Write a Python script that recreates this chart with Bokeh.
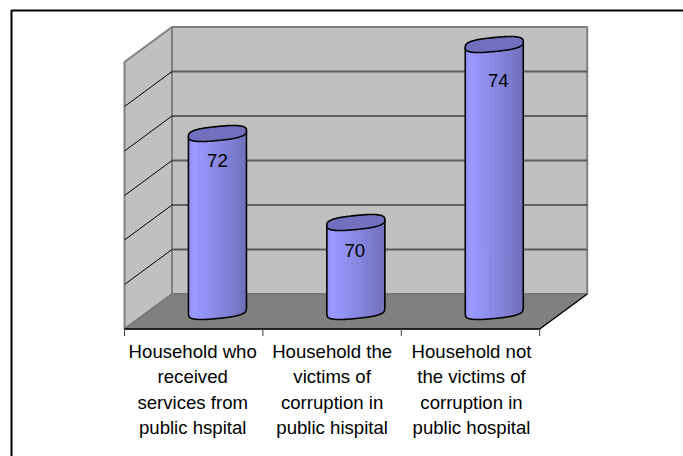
import numpy as np
from bokeh.plotting import figure
from bokeh.models import Range1d
from bokeh.core.properties import value
from bokeh.embed import file_html
from bokeh.resources import INLINE

# --- data ---
categories = [
    ["Household who", "received", "services from", "public hspital"],
    ["Household the", "victims of", "corruption in", "public hispital"],
    ["Household not", "the victims of", "corruption in", "public hospital"],
]
values = [72, 70, 74]
axis_min = 68
axis_max = 74
axis_ticks = [69, 70, 71, 72, 73]

# --- layout (pixels on the page) ---
W, H = 683, 456
PX_CAT = 138.4       # px per category
PX_UNIT = 44.5       # px per value unit
FRONT_LEFT = 124.0
FRONT_BOTTOM = 328.5
DEPTH_X = 47.5 / PX_CAT
DEPTH_Y = 35.0 / PX_UNIT
A = 29.0 / PX_CAT    # cylinder half width
B = 7.0 / PX_UNIT    # cap half height
K = 2.8 / PX_UNIT    # cap tilt
P = 2.8              # roundness of the cap outline

p = figure(width=W, height=H, output_backend="svg", toolbar_location=None,
           min_border=0, min_border_left=0, min_border_right=0,
           min_border_top=0, min_border_bottom=0,
           x_axis_type=None, y_axis_type=None,
           x_range=Range1d(-FRONT_LEFT / PX_CAT, (W - FRONT_LEFT) / PX_CAT),
           y_range=Range1d(axis_min - (H - FRONT_BOTTOM) / PX_UNIT,
                           axis_min + FRONT_BOTTOM / PX_UNIT))
p.grid.visible = False
p.outline_line_color = None
p.background_fill_color = "white"

n = len(categories)
x0, x1 = 0, n
GRAY = "#808080"
WALL = "#C0C0C0"

# walls and floor
p.patch([x0 + DEPTH_X, x1 + DEPTH_X, x1 + DEPTH_X, x0 + DEPTH_X],
        [axis_min + DEPTH_Y, axis_min + DEPTH_Y, axis_max + DEPTH_Y, axis_max + DEPTH_Y],
        fill_color=WALL, line_color=GRAY, line_width=2)
p.patch([x0, x0 + DEPTH_X, x0 + DEPTH_X, x0],
        [axis_min, axis_min + DEPTH_Y, axis_max + DEPTH_Y, axis_max],
        fill_color=WALL, line_color=GRAY, line_width=2)
p.patch([x0, x1, x1 + DEPTH_X, x0 + DEPTH_X],
        [axis_min, axis_min, axis_min + DEPTH_Y, axis_min + DEPTH_Y],
        fill_color=GRAY, line_color="#6E6E6E", line_width=1)

# gridlines: thin black on the side wall, alternating weight on the back wall
for k, t in enumerate(axis_ticks):
    p.line([x0, x0 + DEPTH_X], [t, t + DEPTH_Y], line_color="#000000", line_width=1)
    heavy = k % 2 == 0
    p.line([x0 + DEPTH_X, x1 + DEPTH_X], [t + DEPTH_Y, t + DEPTH_Y],
           line_color="#5A5A5A" if heavy else "#000000", line_width=1.8 if heavy else 1)

# floor edges and ticks
p.line([x0, x1, x1 + DEPTH_X], [axis_min, axis_min, axis_min + DEPTH_Y],
       line_color="#000000", line_width=1.4)
tick_len = 7.0 / PX_UNIT
p.segment(list(range(n + 1)), [axis_min] * (n + 1), list(range(n + 1)),
          [axis_min - tick_len] * (n + 1), line_color="#404040", line_width=1)

# cylinders
stripe_edges = [-1.0, -0.87, -0.72, -0.5, -0.33, -0.17, 0.02, 0.2, 0.34, 0.5, 0.62, 0.72, 0.82, 0.92]
stripe_colors = ["#9494F6", "#9999FF", "#9696FA", "#9292F3", "#8E8EEC", "#8A8AE6", "#8686DF",
                 "#8282D8", "#7E7ED2", "#7B7BCC", "#7878C7", "#7575C3", "#7373BF", "#7171BC"]
CAP = "#7070BE"

def lower(u):
    return -B * np.clip(1 - np.abs(u) ** P, 0, 1) ** (1 / P) + K * u

for i, v in enumerate(values):
    cx = i + 0.5 + DEPTH_X / 2
    base = axis_min + DEPTH_Y / 2
    top = v + DEPTH_Y / 2
    for e, c in zip(stripe_edges, stripe_colors):
        u = np.linspace(e, 1, 40)
        xs = np.r_[cx + A * u, cx + A * u[::-1]]
        ys = np.r_[base + lower(u), top + K * u[::-1]]
        p.patch(xs, ys, fill_color=c, line_color=None)
    u = np.linspace(-1, 1, 120)
    out_x = np.r_[cx - A, cx + A * u, cx + A]
    out_y = np.r_[top - K, base + lower(u), top + K]
    p.line(out_x, out_y, line_color="#000000", line_width=1.6)
    t = np.linspace(0, 2 * np.pi, 160)
    cu = np.sign(np.cos(t)) * np.abs(np.cos(t)) ** (2 / P)
    su = np.sign(np.sin(t)) * np.abs(np.sin(t)) ** (2 / P)
    p.patch(cx + A * cu, top + B * su + K * cu,
            fill_color=CAP, line_color="#000000", line_width=1.6)

# data labels
label_dx = [0, -1, 4]
label_dy = [27, 28, 36]
for i, v in enumerate(values):
    cx = i + 0.5 + DEPTH_X / 2
    p.text([cx + label_dx[i] / PX_CAT], [v + DEPTH_Y / 2 - label_dy[i] / PX_UNIT], [str(v)],
           text_font=value("Liberation Sans"), text_font_size="18.6px", text_color="#000000",
           text_align="center", text_baseline="middle")

# category labels
line_y = [351, 376, 401.5, 427]
label_shift = [-1, 0, 1]
for i, lines in enumerate(categories):
    for ln, yy in zip(lines, line_y):
        p.text([i + 0.5 + label_shift[i] / PX_CAT], [axis_min - (yy - FRONT_BOTTOM) / PX_UNIT], [ln],
               text_font=value("Liberation Sans"), text_font_size="18.6px", text_color="#000000",
               text_align="center", text_baseline="middle")

# chart-area border: only its left and top sides fall inside the picture
left_edge = (11 - FRONT_LEFT) / PX_CAT
top_edge = axis_min + (FRONT_BOTTOM - 10) / PX_UNIT
right_edge = (W + 5 - FRONT_LEFT) / PX_CAT
bottom_edge = axis_min - (H + 5 - FRONT_BOTTOM) / PX_UNIT
p.line([left_edge, left_edge, right_edge], [bottom_edge, top_edge, top_edge],
       line_color="#000000", line_width=2)

open("out.html", "w").write(file_html(p, INLINE))
